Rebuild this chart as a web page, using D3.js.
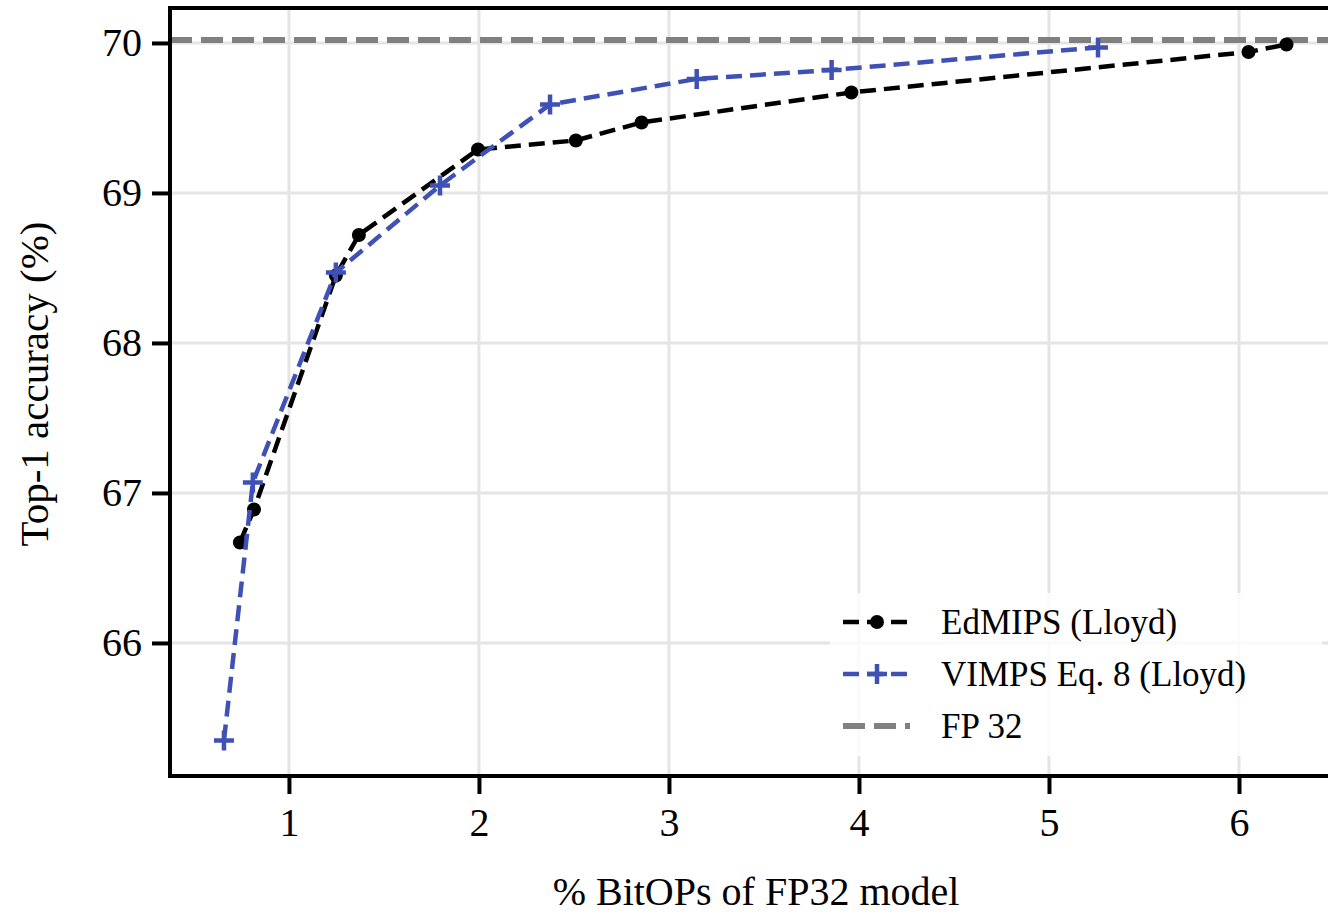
<!DOCTYPE html>
<html>
<head>
<meta charset="utf-8">
<script src="https://cdn.jsdelivr.net/npm/d3@7"></script>
<style>
  body { margin: 0; background: #fff; }
  svg { display: block; }
</style>
</head>
<body>
<div class="chart-area"></div>
<script>
// values
const edmipsX = [0.742, 0.816, 1.247, 1.368, 1.995, 2.51, 2.856, 3.96, 6.05, 6.25];
const edmipsY = [66.67, 66.89, 68.45, 68.72, 69.29, 69.35, 69.47, 69.67, 69.94, 69.99];
const vimpsX = [0.658, 0.81, 1.247, 1.795, 2.374, 3.146, 3.856, 5.258];
const vimpsY = [65.35, 67.07, 68.47, 69.05, 69.59, 69.76, 69.82, 69.97];
const fp32 = 70.02;
const xTicks = [1, 2, 3, 4, 5, 6];
const yTicks = [66, 67, 68, 69, 70];
const legendLabels = ["EdMIPS (Lloyd)", "VIMPS Eq. 8 (Lloyd)", "FP 32"];

const width = 1328,
  height = 914;
const margin = { top: 8, right: -6, bottom: 138, left: 170 };

const font = "'Liberation Serif', 'Times New Roman', serif";
const blue = "#3f51b5",
  grey = "#808080";

const svg = d3
  .select(".chart-area")
  .append("svg")
  .attr("width", width)
  .attr("height", height);

const x = d3
  .scaleLinear()
  .domain([0.374, 6.5])
  .range([margin.left, width - margin.right]);

const y = d3
  .scaleLinear()
  .domain([65.113, 70.233])
  .range([height - margin.bottom, margin.top]);

// grid
const grid = svg.append("g").attr("stroke", "#e6e4e4").attr("stroke-width", 3);
grid
  .selectAll("line.gx")
  .data(xTicks)
  .enter()
  .append("line")
  .attr("x1", (d) => x(d))
  .attr("x2", (d) => x(d))
  .attr("y1", y.range()[0])
  .attr("y2", y.range()[1]);
grid
  .selectAll("line.gy")
  .data(yTicks)
  .enter()
  .append("line")
  .attr("x1", x.range()[0])
  .attr("x2", x.range()[1])
  .attr("y1", (d) => y(d))
  .attr("y2", (d) => y(d));

// FP32 reference
svg
  .append("line")
  .attr("x1", x.range()[0])
  .attr("x2", x.range()[1])
  .attr("y1", y(fp32))
  .attr("y2", y(fp32))
  .attr("stroke", grey)
  .attr("stroke-width", 6)
  .attr("stroke-dasharray", "22,9");

const line = d3
  .line()
  .x((d) => x(d[0]))
  .y((d) => y(d[1]));

const edmips = edmipsX.map((v, i) => [v, edmipsY[i]]);
const vimps = vimpsX.map((v, i) => [v, vimpsY[i]]);

svg
  .append("path")
  .datum(edmips)
  .attr("d", line)
  .attr("fill", "none")
  .attr("stroke", "#000")
  .attr("stroke-width", 4.5)
  .attr("stroke-dasharray", "16,8");

svg
  .append("g")
  .selectAll("circle")
  .data(edmips)
  .enter()
  .append("circle")
  .attr("cx", (d) => x(d[0]))
  .attr("cy", (d) => y(d[1]))
  .attr("r", 7)
  .attr("fill", "#000");

svg
  .append("path")
  .datum(vimps)
  .attr("d", line)
  .attr("fill", "none")
  .attr("stroke", blue)
  .attr("stroke-width", 4.5)
  .attr("stroke-dasharray", "16,8");

svg
  .append("g")
  .selectAll("path")
  .data(vimps)
  .enter()
  .append("path")
  .attr("d", (d) => `M${x(d[0]) - 10},${y(d[1])}h20M${x(d[0])},${y(d[1]) - 10}v20`)
  .attr("stroke", blue)
  .attr("stroke-width", 4.5)
  .attr("fill", "none");

// axes
const xAxis = svg
  .append("g")
  .attr("transform", `translate(0,${y.range()[0]})`)
  .call(d3.axisBottom(x).tickValues(xTicks).tickSize(18).tickPadding(14).tickFormat(d3.format("d")));
const yAxis = svg
  .append("g")
  .attr("transform", `translate(${x.range()[0]},0)`)
  .call(d3.axisLeft(y).tickValues(yTicks).tickSize(18).tickPadding(10).tickFormat(d3.format("d")));

[xAxis, yAxis].forEach((a) => {
  a.select(".domain").remove();
  a.selectAll(".tick line").attr("stroke", "#000").attr("stroke-width", 4);
  a.selectAll(".tick text")
    .attr("font-family", font)
    .attr("font-size", 40)
    .attr("fill", "#000");
});

// frame
svg
  .append("rect")
  .attr("x", x.range()[0])
  .attr("y", y.range()[1])
  .attr("width", x.range()[1] - x.range()[0])
  .attr("height", y.range()[0] - y.range()[1])
  .attr("fill", "none")
  .attr("stroke", "#000")
  .attr("stroke-width", 4);

// axis titles
svg
  .append("text")
  .attr("x", (x.range()[0] + 1328) / 2 + 7)
  .attr("y", 905)
  .attr("text-anchor", "middle")
  .attr("font-family", font)
  .attr("font-size", 40)
  .text("% BitOPs of FP32 model");

svg
  .append("text")
  .attr("transform", `translate(48,${(y.range()[0] + y.range()[1]) / 2 - 8}) rotate(-90)`)
  .attr("text-anchor", "middle")
  .attr("font-family", font)
  .attr("font-size", 41)
  .text("Top-1 accuracy (%)");

// legend
const legend = svg.append("g").attr("transform", "translate(830,593)");
legend
  .append("rect")
  .attr("width", 492)
  .attr("height", 163)
  .attr("rx", 4)
  .attr("fill", "#fff")
  .attr("fill-opacity", 0.8);

const rows = legend
  .selectAll("g.row")
  .data(legendLabels)
  .enter()
  .append("g")
  .attr("transform", (d, i) => `translate(0,${29 + i * 52})`);

rows
  .append("line")
  .attr("x1", 13)
  .attr("x2", 80)
  .attr("stroke", (d, i) => ["#000", blue, grey][i])
  .attr("stroke-width", (d, i) => (i === 2 ? 6 : 4.5))
  .attr("stroke-dasharray", (d, i) => (i === 2 ? "22,9" : "16,8"));

rows
  .filter((d, i) => i === 0)
  .append("circle")
  .attr("cx", 47)
  .attr("r", 7)
  .attr("fill", "#000");

rows
  .filter((d, i) => i === 1)
  .append("path")
  .attr("d", "M37,0h20M47,-10v20")
  .attr("stroke", blue)
  .attr("stroke-width", 4.5);

rows
  .append("text")
  .attr("x", 111)
  .attr("dy", "0.35em")
  .attr("font-family", font)
  .attr("font-size", 35)
  .text((d) => d);
</script>
</body>
</html>
